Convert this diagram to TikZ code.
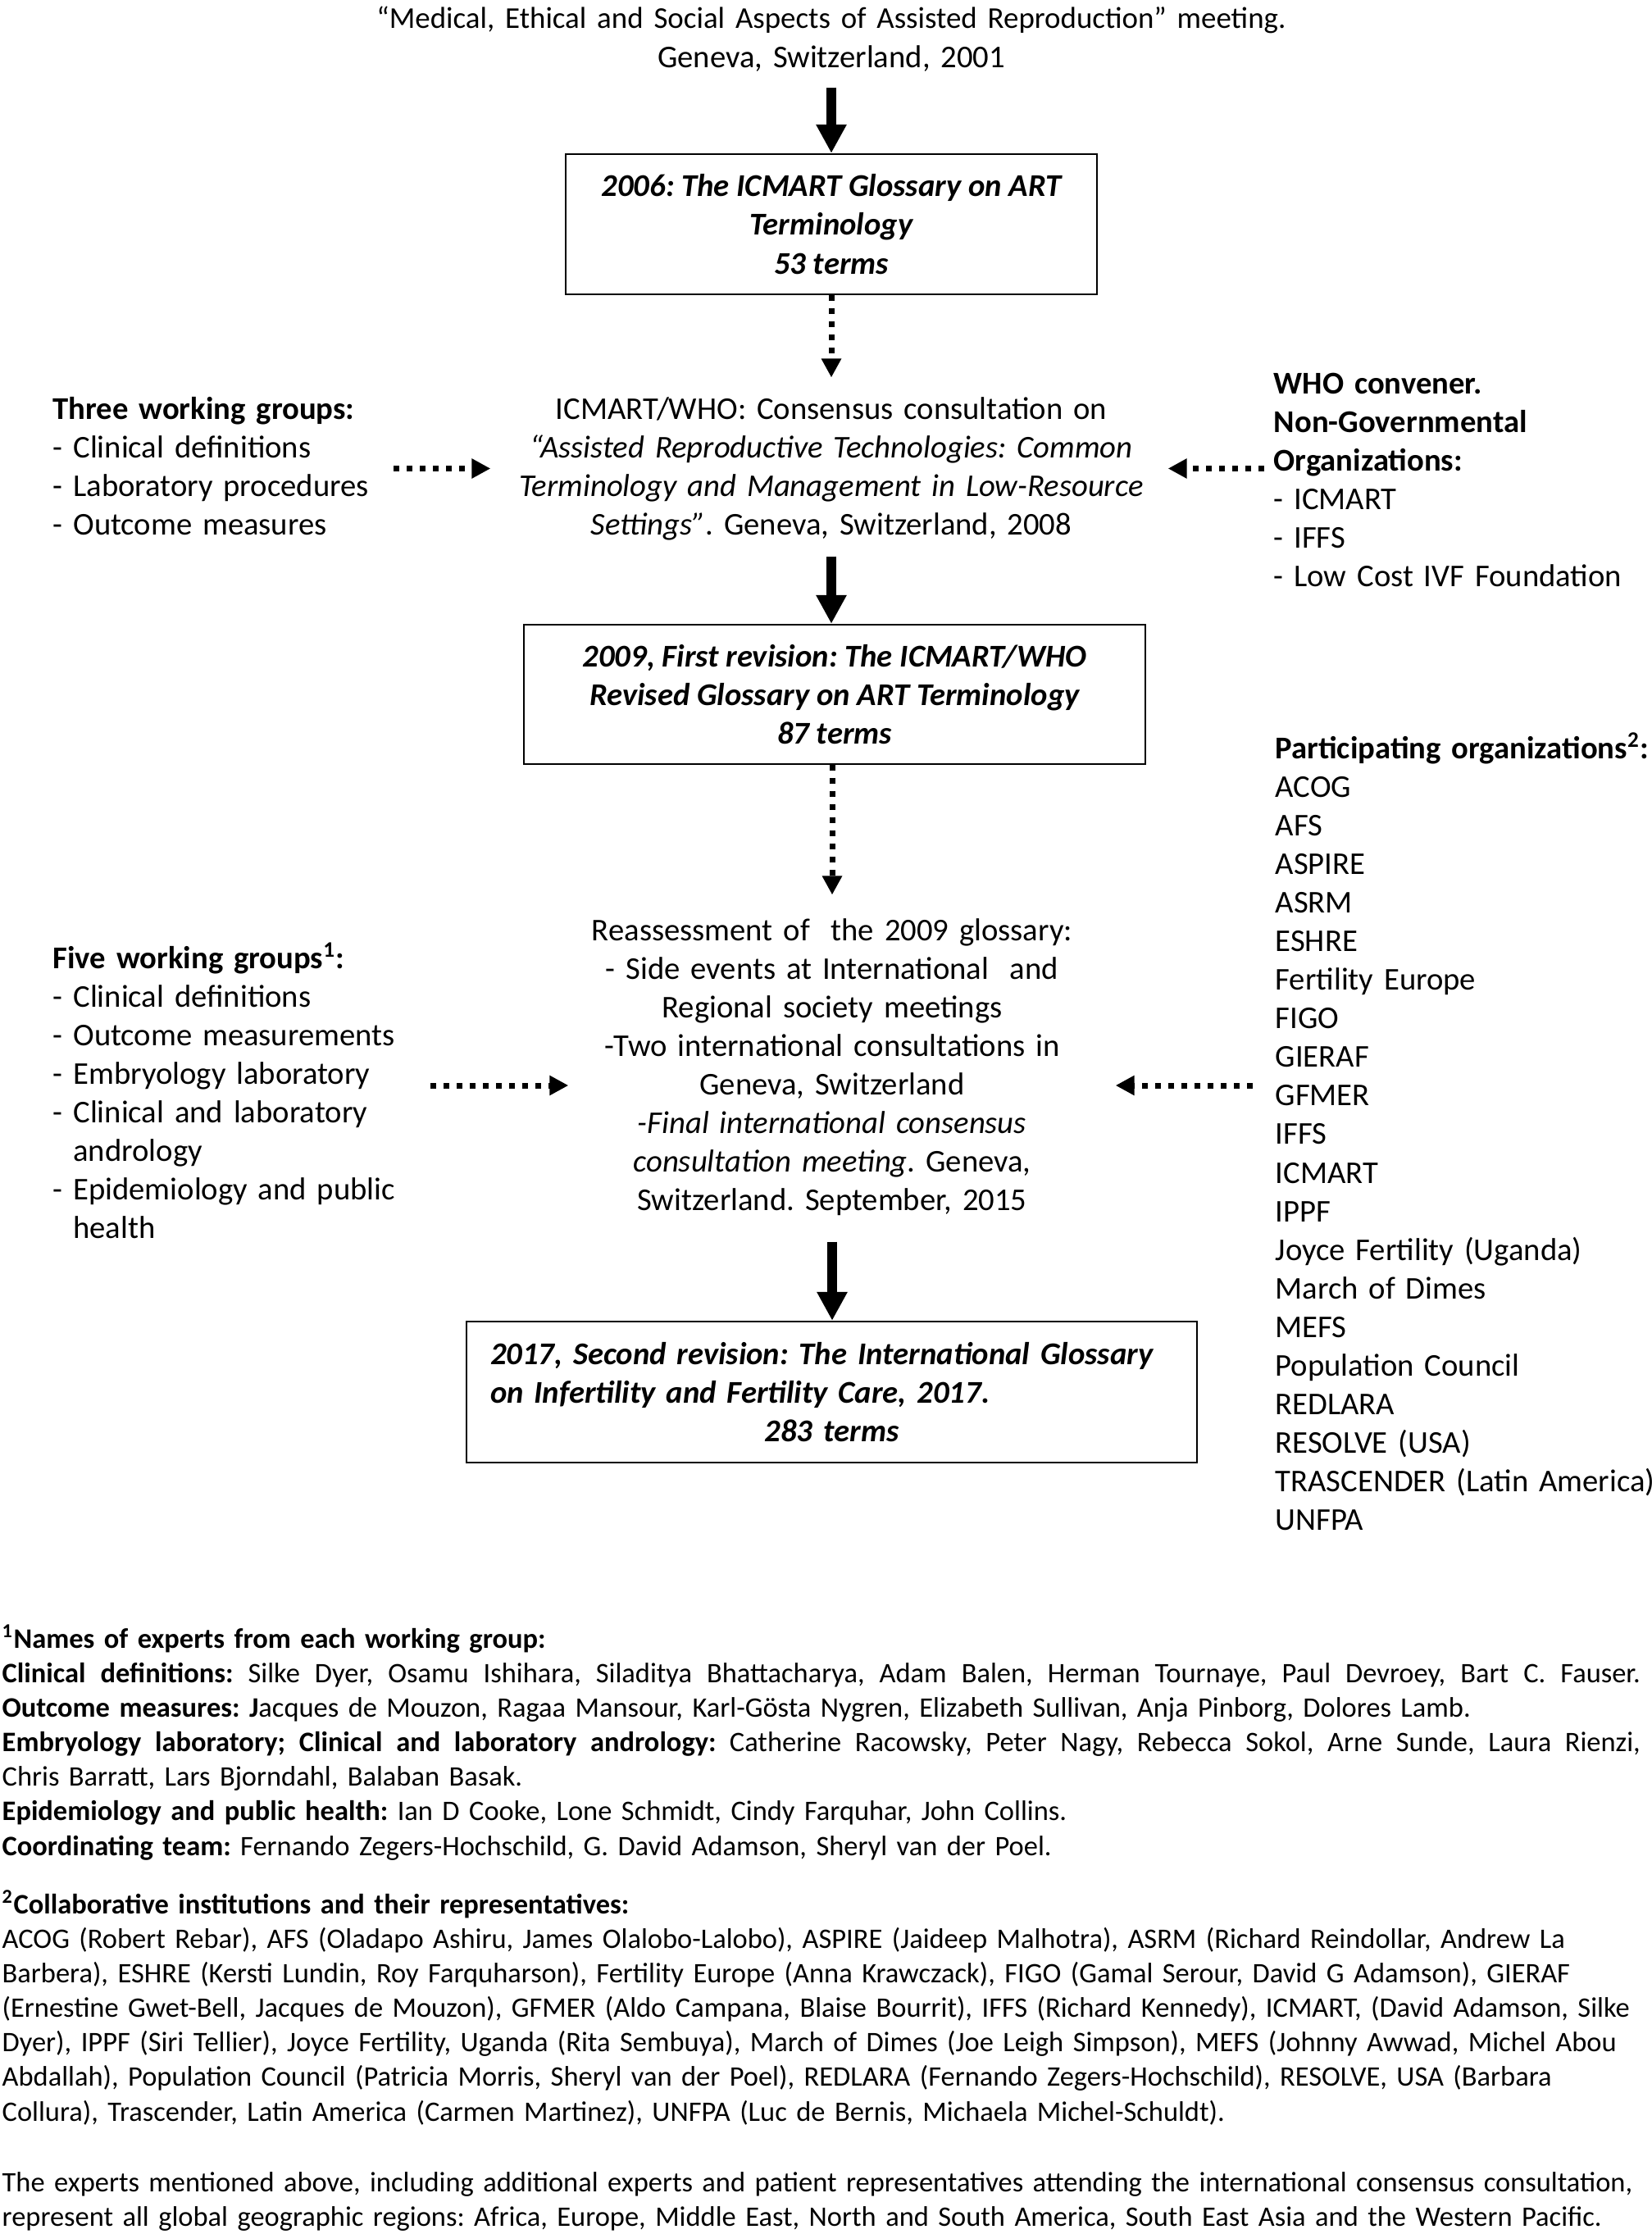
\documentclass[tikz,border=0pt]{standalone}
\usepackage{fontspec}
\setmainfont{Carlito}
\usetikzlibrary{arrows.meta, positioning}
\hyphenpenalty=10000
\exhyphenpenalty=10000
\frenchspacing
\newcommand\spreadline[1]{\leavevmode\hbox to 19.98cm{\spaceskip=.22em plus 1fil\relax #1}}

\begin{document}
\begin{tikzpicture} [
						every node/.style={inner sep=0pt, font=\fontsize{11}{13.4}\selectfont},
						glossbox/.style={draw, line width=0.65pt, font=\fontsize{11}{13.4}\selectfont\bfseries\itshape},
						flowtext/.style={anchor=base, align=center},
						sidelist/.style={anchor=base west, align=left},
						footnote/.style={anchor=base west, align=left, text width=20.5cm, font=\fontsize{9.8}{12}\selectfont},
						solidarrow/.style={-{Triangle[width=3.5mm,length=3.5mm]}, line width=1.2mm},
						dotarrow/.style={-{Triangle[width=2.3mm,length=2.3mm]}, line width=0.7mm, dash pattern=on 0.7mm off 0.9mm}
					]
\useasboundingbox (0,0) rectangle (20.14,-27.25);

% main column
\node (title) [flowtext, text width=12cm] at (10.14,-0.35) {{\fontsize{10.5}{13.4}\selectfont “Medical, Ethical and Social Aspects of Assisted Reproduction” meeting.}\\Geneva, Switzerland, 2001};
\node (box1) [glossbox, align=center, minimum width=6.48cm, minimum height=1.71cm] at (10.14,-2.735) {2006: The ICMART Glossary on ART\\Terminology\\53 terms};
\node (meet1) [flowtext, text width=7.8cm] at (10.14,-5.11) {ICMART/WHO: Consensus consultation on\\\textit{“Assisted Reproductive Technologies: Common}\\\textit{Terminology and Management in Low-Resource}\\\textit{Settings”}. Geneva, Switzerland, 2008};
\node (box2) [glossbox, align=center, minimum width=7.58cm, minimum height=1.70cm] at (10.18,-8.47) {2009, First revision: The ICMART/WHO\\Revised Glossary on ART Terminology\\87 terms};
\node (meet2) [flowtext, text width=6cm] at (10.15,-11.47) {Reassessment of~ the 2009 glossary:\\- Side events at International~ and\\Regional society meetings\\-Two international consultations in\\Geneva, Switzerland\\\textit{-Final international consensus}\\\textit{consultation meeting}. Geneva,\\Switzerland. September, 2015};
\node (box3) [glossbox, align=left, text width=8.33cm, minimum width=8.91cm, minimum height=1.72cm] at (10.145,-16.98) {2017, Second revision: The International Glossary\\on Infertility and Fertility Care, 2017.\\\makebox[\linewidth]{283 terms}};

% side columns
\node (groups1) [sidelist, text width=3.9cm] at (0.64,-5.11) {\textbf{Three working groups:}\\- Clinical definitions\\- Laboratory procedures\\- Outcome measures};
\node (ngo) [sidelist, text width=4.6cm] at (15.53,-4.80) {\textbf{WHO convener.}\\\textbf{Non-Governmental}\\\textbf{Organizations:}\\- ICMART\\- IFFS\\- Low Cost IVF Foundation};
\node (groups2) [sidelist, text width=4.2cm] at (0.64,-11.81) {\textbf{Five working groups\textsuperscript{1}:}\\- Clinical definitions\\- Outcome measurements\\- Embryology laboratory\\- Clinical and laboratory\\\phantom{- }andrology\\- Epidemiology and public\\\phantom{- }health};
\node (orgs) [sidelist, text width=5cm] at (15.55,-9.25) {\textbf{Participating organizations\textsuperscript{2}:}\\ACOG\\AFS\\ASPIRE\\ASRM\\ESHRE\\Fertility Europe\\FIGO\\GIERAF\\GFMER\\IFFS\\ICMART\\IPPF\\Joyce Fertility (Uganda)\\March of Dimes\\MEFS\\Population Council\\REDLARA\\RESOLVE (USA)\\TRASCENDER (Latin America)\\UNFPA};

\coordinate (row1) at (0,-5.715);
\coordinate (row2) at (0,-13.24);

% footnotes
\node (experts) [footnote] at (0.02,-20.10) {\textbf{\textsuperscript{1}Names of experts from each working group:}\\
\spreadline{\textbf{Clinical definitions:} Silke Dyer, Osamu Ishihara, Siladitya Bhattacharya, Adam Balen, Herman Tournaye, Paul Devroey, Bart C. Fauser.}\\
\textbf{Outcome measures: J}acques de Mouzon, Ragaa Mansour, Karl-Gösta Nygren, Elizabeth Sullivan, Anja Pinborg, Dolores Lamb.\\
\spreadline{\textbf{Embryology laboratory; Clinical and laboratory andrology:} Catherine Racowsky, Peter Nagy, Rebecca Sokol, Arne Sunde, Laura Rienzi,}\\
Chris Barratt, Lars Bjorndahl, Balaban Basak.\\
\textbf{Epidemiology and public health:} Ian D Cooke, Lone Schmidt, Cindy Farquhar, John Collins.\\
\textbf{Coordinating team:} Fernando Zegers-Hochschild, G. David Adamson, Sheryl van der Poel.};
\node (institutions) [footnote] at (0.02,-23.34) {\textbf{\textsuperscript{2}Collaborative institutions and their representatives:}\\
ACOG (Robert Rebar), AFS (Oladapo Ashiru, James Olalobo-Lalobo), ASPIRE (Jaideep Malhotra), ASRM (Richard Reindollar, Andrew La\\
Barbera), ESHRE (Kersti Lundin, Roy Farquharson), Fertility Europe (Anna Krawczack), FIGO (Gamal Serour, David G Adamson), GIERAF\\
(Ernestine Gwet-Bell, Jacques de Mouzon), GFMER (Aldo Campana, Blaise Bourrit), IFFS (Richard Kennedy), ICMART, (David Adamson, Silke\\
Dyer), IPPF (Siri Tellier), Joyce Fertility, Uganda (Rita Sembuya), March of Dimes (Joe Leigh Simpson), MEFS (Johnny Awwad, Michel Abou\\
Abdallah), Population Council (Patricia Morris, Sheryl van der Poel), REDLARA (Fernando Zegers-Hochschild), RESOLVE, USA (Barbara\\
Collura), Trascender, Latin America (Carmen Martinez), UNFPA (Luc de Bernis, Michaela Michel-Schuldt).};
\node (regions) [footnote] at (0.02,-26.73) {The experts mentioned above, including additional experts and patient representatives attending the international consensus consultation,\\
represent all global geographic regions: Africa, Europe, Middle East, North and South America, South East Asia and the Western Pacific.};

% connectors
\draw[solidarrow, shorten <=1.9mm] (title.south) -- (box1.north);
\draw[dotarrow, shorten >=2.3mm] (box1.south) -- (meet1.north);
\draw[solidarrow, shorten <=1.9mm] (meet1.south) -- (meet1.south |- box2.north);
\draw[dotarrow, shorten >=2.8mm] (meet2.north |- box2.south) -- (meet2.north);
\draw[solidarrow, shorten <=3.1mm] (meet2.south) -- (meet2.south |- box3.north);

\draw[dotarrow, shorten <=2.5mm, shorten >=2.5mm] (groups1.east |- row1) -- (meet1.west |- row1);
\draw[dotarrow, shorten <=1.1mm, shorten >=2mm] (ngo.west |- row1) -- (meet1.east |- row1);
\draw[dotarrow, shorten <=4mm, shorten >=2.1mm] (groups2.east |- row2) -- (meet2.west |- row2);
\draw[dotarrow, shorten <=2.7mm, shorten >=4.5mm] (orgs.west |- row2) -- (meet2.east |- row2);
\end{tikzpicture}
\end{document}
